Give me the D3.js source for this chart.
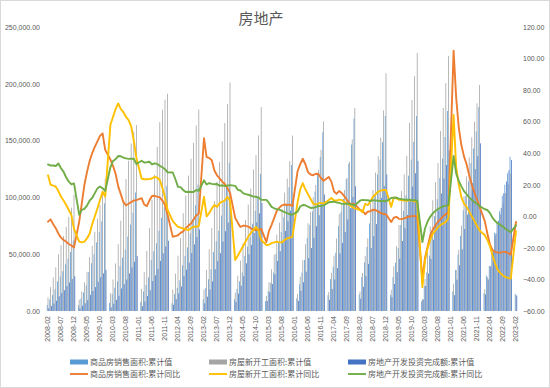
<!DOCTYPE html>
<html><head><meta charset="utf-8">
<script src="https://cdn.jsdelivr.net/npm/d3@7"></script>
<style>
body{margin:0;background:#fff}
svg{display:block}
</style>
</head><body>
<svg id="chart" width="550" height="388"></svg>
<script>
// ---------------- DATA ----------------
const title = "房地产";
const barNames = ["商品房销售面积:累计值", "房屋新开工面积:累计值", "房地产开发投资完成额:累计值"];
const lineNames = ["商品房销售面积:累计同比", "房屋新开工面积:累计同比", "房地产开发投资完成额:累计同比"];
const barColors = ["#5B9BD5", "#A5A5A5", "#4472C4"];
const lineColors = ["#ED7D31", "#FFC000", "#70AD47"];
const leftTicks = [0, 50000, 100000, 150000, 200000, 250000];
const rightTicks = [-60, -40, -20, 0, 20, 40, 60, 80, 100, 120];

// monthly categories 2008-02 .. 2023-02
const categories = [];
for (let y = 2008; y <= 2023; y++) for (let m = 1; m <= 12; m++) {
  if ((y === 2008 && m < 2) || (y === 2023 && m > 2)) continue;
  categories.push(y + "-" + String(m).padStart(2, "0"));
}
const tickLabels = categories.filter((d, i) => i % 5 === 0);

// 商品房销售面积:累计值 (万平方米)
const salesArea = [
  5400,10000,14000,19000,26000,30500,35000,41000,46000,52000,62089,
  null,5100,11000,16300,22500,34300,42000,50000,60400,69600,79000,94755,
  null,7100,14900,20500,26000,39400,47000,54000,65400,76000,86600,104349,
  null,8100,17100,23000,29600,44800,52600,59600,70600,82000,91300,109946,
  null,7000,14800,20300,27000,40300,48500,56000,68300,81000,93000,111304,
  null,10400,20300,28000,36700,51900,61300,70700,84000,96500,110400,130551,
  null,10400,19500,26200,33900,48400,56600,64800,76800,88200,101200,120649,
  null,8700,17700,24800,33800,50300,60000,69500,82600,94600,108800,128495,
  null,11200,23500,33800,45000,64300,75900,87600,105200,120000,135600,157349,
  null,14000,28100,39100,51300,74700,87000,98700,116000,129800,146500,169408,
  null,14600,30000,42700,56400,77100,88900,102200,120200,133300,148600,171654,
  null,14102,29829,42558,55518,75786,88112,101849,119179,133251,148905,171558,
  null,8475,21978,33973,48703,69404,83521,98486,117073,134118,153134,176086,
  null,17363,36007,49617,66257,88635,101446,114193,130332,143041,158107,179433,
  null,15703,31046,39768,50738,68923,78178,87890,101422,111179,121250,135837,
  null,15133
];
// 房屋新开工面积:累计值 (万平方米)
const newStarts = [
  12000,21000,29500,38500,50000,58000,66000,74000,83000,91000,102553,
  null,10000,17200,25300,34500,47400,57300,69600,81300,93400,105700,116422,
  null,15800,27700,41900,58800,79500,97500,116200,132300,147500,158000,163647,
  null,19500,34200,52900,72900,98000,120000,144500,166300,177300,186000,191237,
  null,19000,33000,48700,64200,86100,101600,119200,134000,148000,163300,177334,
  null,19000,36200,54300,73000,96800,113800,131000,149400,165400,182200,201208,
  null,16300,31100,44400,59200,80100,93700,107700,124600,137200,154600,179592,
  null,13300,25400,36800,49600,67200,77700,89300,104200,116700,132000,154454,
  null,15100,30200,44700,58800,77200,87300,100100,110900,124400,142000,166928,
  null,16700,33700,48800,63800,85400,93100,106500,117200,131400,151100,178654,
  null,17200,33500,48600,64000,95400,106500,121900,136400,152700,176600,209342,
  null,18814,39394,57054,75710,105509,120271,136638,165707,185634,206677,227154,
  null,10369,28173,51011,74544,97537,113444,130365,158478,178778,200543,224433,
  null,24003,36163,53846,75213,101241,118480,135346,152944,166736,182820,198895,
  null,19267,29838,39739,51628,66423,76091,85189,94767,103722,111632,120587,
  null,13658
];
// 房地产开发投资完成额:累计值 (亿元)
const investment = [
  2300,4400,6500,9000,13000,15800,18300,21900,25000,28100,30580,
  null,2300,4600,6800,9600,14300,17600,21000,25800,29700,33100,36232,
  null,3200,6300,9800,13500,19800,23600,27700,33100,38300,43300,48259,
  null,4300,8400,13200,18200,26300,31500,37000,44100,50800,56600,61796,
  null,5500,10400,15600,21600,30700,36400,42600,51000,58600,65100,71804,
  null,6700,12600,18900,26000,36800,43900,50900,61100,70200,77900,86013,
  null,8000,15300,22300,30600,42000,50000,58000,68700,78000,86000,95036,
  null,8800,16700,23700,32200,44000,52600,61000,70500,79100,88300,95979,
  null,9000,17700,25300,34600,46600,55400,64400,74600,84300,94100,102581,
  null,9900,19300,27700,37700,50600,59800,69600,80600,90500,100400,109799,
  null,10800,21300,30600,41500,55500,65900,76500,88900,99500,110100,120264,
  null,12090,23803,34217,46075,61609,72843,84589,98008,109603,121265,132194,
  null,10115,21963,33103,45920,62780,75325,88454,103484,116556,128492,141443,
  null,13986,27576,40240,54318,72179,84895,98060,112568,124934,136265,147602,
  null,14499,27765,39154,52134,68314,79462,90809,103559,113945,123863,132895,
  null,13669
];
// 商品房销售面积:累计同比 (%)
const salesYoY = [
  -3.4,-1.9,-5,-7.5,-11,-13.5,-15,-16,-17.5,-18.5,-19.7,
  null,-3.4,8.2,20,28,35,40,44,47.5,51,52.5,42.1,
  null,36,32,27,19,14,9,7,8,9,10,10.3,
  null,11.5,7.5,6.5,10,12.9,13,12.5,12,10,7.2,1,
  null,-13,-12.5,-12,-10.5,-9.5,-7.5,-6,-4.5,-2,0.5,1.8,
  null,49.5,37.5,37,35.6,29,26,24,22,20.5,18,15,
  null,-1,-4,-6.7,-6,-6,-6.5,-7.5,-8.6,-8.7,-8.5,-8,
  null,-16.3,-9.2,-5.4,-1,3.5,5.5,7,7.5,7.2,7.4,6.5,
  null,28.6,33.1,36.5,33,28,26.5,26,27,26.8,24.3,22.5,
  null,25,22,15.7,14.3,16.1,14.7,12.7,10.3,8.2,8,7.7,
  null,4.1,3.6,1.3,2.9,3.3,4.2,4,2.9,2.2,1.4,1.3,
  null,-3.6,-0.9,-0.3,-1.6,-1.8,-1.3,-0.6,-0.1,0.1,0.2,-0.1,
  null,-39.9,-26.3,-19.3,-12.3,-8.4,-5.8,-3.3,-1.8,0,1.3,2.6,
  null,104.9,75,56,45,38,33,26,20,15,10.5,6,
  null,-3,-11,-18,-21.5,-22.5,-23,-23,-22.5,-22.5,-23.3,-24.3,
  null,-3.6
];
// 房屋新开工面积:累计同比 (%)
const newStartsYoY = [
  26,20,19.5,18.8,16,12.4,10,7.2,4,0.8,-8,
  null,-16,-16.5,-16,-14,-11,-5,0,5,10.3,15.6,12.5,
  null,58,63,68,71.6,68,66,63,61,57,48,37,
  null,24,23.5,23.5,23.6,24,25,24.5,23,18,12,4,
  null,-3,-5,-6.6,-7.2,-7.7,-8.2,-8.7,-7.5,-6.6,-6.6,-6,
  null,12.4,0,2,5,7.2,6,8.4,9.3,10,12.4,10,
  null,-27.7,-25,-22,-19,-16,-13,-10.5,-8.7,-6.6,-9,-15,
  null,-18.2,-18,-17,-16.5,-16,-16.5,-16.5,-15,-14,-13.5,-13,
  null,9,17,21,17,14,11,8,7.5,8.2,8.5,8.1,
  null,10.4,11.6,10,10,10.6,10.3,9,8,7,6,5,
  null,4,2.6,8,7,9.5,12.4,14,15.6,16.3,16.7,16.7,
  null,6,11.9,11.4,10.5,10.3,10,9.9,10.3,10,9.5,9,
  null,-44.9,-28,-20,-15,-11,-9,-7,-5.5,-4.5,-3.5,-1.2,
  null,64.3,31,20,12,8,6,3,0,-3,-6,-9,
  null,-12,-15,-19,-25,-30,-34,-36,-37.5,-38.5,-39,-39.4,
  null,-9.4
];
// 房地产开发投资完成额:累计同比 (%)
const investYoY = [
  32.9,32.2,32.2,31.9,33.5,30.5,28.2,24.6,22,20.3,20.9,
  null,1,4.1,4.7,6.8,9.9,11.6,14.7,17.7,18.9,17.8,16.1,
  null,31.1,35.1,36.2,38.2,38.1,37.2,36.7,36.4,36.5,36.5,33.2,
  null,35.2,34.1,34.3,34.6,32.9,33.6,33.2,32,31.1,29.9,27.9,
  null,27.8,23.5,18.7,18.5,16.6,15.4,15.6,15.4,15.4,16.7,16.2,
  null,22.8,20.2,21.1,20.6,20.3,20.5,19.3,19.7,19.2,19.5,19.8,
  null,19.3,16.8,16.4,14.7,14.1,13.7,13.2,12.5,12.4,11.9,10.5,
  null,10.4,8.5,6,5.1,4.6,4.3,3.5,2.6,2,1.3,1,
  null,3,6.2,7.2,7,6.1,5.3,5.4,5.8,6.6,6.5,6.9,
  null,8.9,9.1,9.3,8.8,8.5,7.9,7.9,8.1,7.8,7.5,7,
  null,9.9,10.4,10.3,10.2,9.7,10.2,10.1,9.9,9.7,9.7,9.5,
  null,11.6,11.8,11.9,11.2,10.9,10.6,10.5,10.5,10.3,10.2,9.9,
  null,-16.3,-7.7,-3.3,-0.3,1.9,3.4,4.6,5.6,6.3,6.8,7,
  null,38.3,27,22.5,19,16,14,12,10.5,9,8,6.5,
  null,4.5,4,2,-1,-3,-4.5,-5.5,-6.5,-8,-9,-10,
  null,-5.7
];

// ---------------- CHART ----------------
const svg = d3.select("#chart");
const W = 550, H = 388;
const textColor = "#595959";
const numFont = "'Liberation Sans', Arial, sans-serif";
const cjkFont = "'Noto Sans CJK SC', 'Noto Sans', sans-serif";

svg.append("rect").attr("x", 0.5).attr("y", 0.5).attr("width", W - 1).attr("height", H - 1)
  .attr("fill", "#fff").attr("stroke", "#d9d9d9");

const x = d3.scaleBand().domain(categories).range([46.7, 517.3]).padding(0);
const yL = d3.scaleLinear().domain([0, 250000]).range([311, 27]);
const yR = d3.scaleLinear().domain([-60, 120]).range([311, 27]);
const xi = d3.scaleBand().domain([0, 1, 2]).range([0, x.bandwidth()]).paddingInner(0).paddingOuter(0.15);

// title
svg.append("text").attr("x", 261).attr("y", 24).attr("text-anchor", "middle")
  .attr("font-family", cjkFont).attr("font-size", 15).attr("fill", textColor).text(title);

// left axis
const gL = svg.append("g").attr("transform", "translate(40,0)")
  .call(d3.axisLeft(yL).tickValues(leftTicks).tickFormat(d3.format(",.2f")).tickSize(0).tickPadding(0));
gL.select(".domain").remove();
gL.selectAll("text").attr("font-family", numFont).attr("font-size", 7).attr("fill", textColor);

// right axis
const gR = svg.append("g").attr("transform", "translate(523,0)")
  .call(d3.axisRight(yR).tickValues(rightTicks).tickFormat(d3.format(".2f")).tickSize(0).tickPadding(0));
gR.select(".domain").remove();
gR.selectAll("text").attr("font-family", numFont).attr("font-size", 7).attr("fill", textColor);

// x axis labels
const gX = svg.append("g").attr("transform", "translate(0,316)")
  .call(d3.axisBottom(x).tickValues(tickLabels).tickSize(0).tickPadding(0));
gX.select(".domain").remove();
gX.selectAll("text").attr("font-family", numFont).attr("font-size", 7).attr("fill", textColor)
  .attr("text-anchor", "end").attr("transform", "rotate(-90)").attr("x", 0).attr("y", 0).attr("dy", "0.35em");

// bars
const barSeries = [salesArea, newStarts, investment];
barSeries.forEach((vals, s) => {
  svg.append("g").selectAll("rect")
    .data(categories.map((c, i) => ({ c, v: vals[i] })).filter(d => d.v != null))
    .join("rect")
    .attr("x", d => x(d.c) + xi(s))
    .attr("width", xi.bandwidth())
    .attr("y", d => yL(d.v))
    .attr("height", d => yL(0) - yL(d.v))
    .attr("fill", barColors[s]);
});

// lines
const lineSeries = [salesYoY, newStartsYoY, investYoY];
const line = d3.line().x(d => x(d.c) + x.bandwidth() / 2).y(d => yR(d.v));
lineSeries.forEach((vals, s) => {
  const pts = categories.map((c, i) => ({ c, v: vals[i] })).filter(d => d.v != null);
  svg.append("path").datum(pts).attr("d", line).attr("fill", "none")
    .attr("stroke", lineColors[s]).attr("stroke-width", 1.9)
    .attr("stroke-linejoin", "round").attr("stroke-linecap", "round");
});

// legend
const legX = [70, 209, 348];
const legend = svg.append("g");
barNames.forEach((n, i) => {
  legend.append("rect").attr("x", legX[i]).attr("y", 359.5).attr("width", 18).attr("height", 5).attr("fill", barColors[i]);
  legend.append("text").attr("x", legX[i] + 20).attr("y", 362).attr("dy", "0.35em")
    .attr("font-family", cjkFont).attr("font-size", 8).attr("fill", textColor).text(n);
});
lineNames.forEach((n, i) => {
  legend.append("line").attr("x1", legX[i]).attr("x2", legX[i] + 18).attr("y1", 374).attr("y2", 374)
    .attr("stroke", lineColors[i]).attr("stroke-width", 1.9);
  legend.append("text").attr("x", legX[i] + 20).attr("y", 374).attr("dy", "0.35em")
    .attr("font-family", cjkFont).attr("font-size", 8).attr("fill", textColor).text(n);
});
</script>
</body></html>
